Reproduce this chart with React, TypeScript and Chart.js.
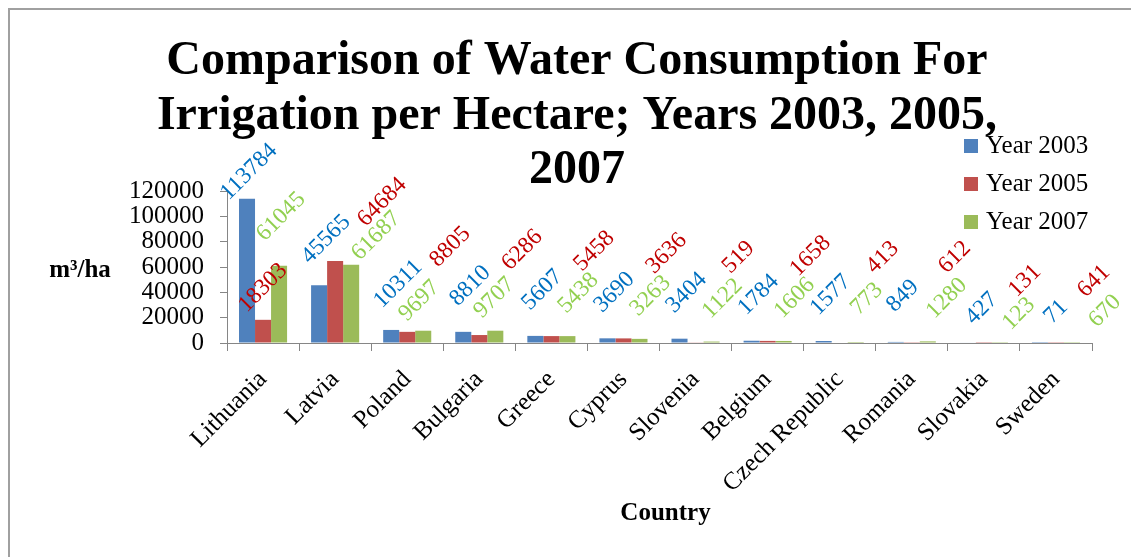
import React, { useEffect, useRef } from 'react';
import { Chart, registerables } from 'chart.js';

Chart.register(...registerables);

// ---------- data ----------
const categories = [
  'Lithuania', 'Latvia', 'Poland', 'Bulgaria', 'Greece', 'Cyprus',
  'Slovenia', 'Belgium', 'Czech Republic', 'Romania', 'Slovakia', 'Sweden',
];
const year2003 = [113784, 45565, 10311, 8810, 5607, 3690, 3404, 1784, 1577, 849, 427, 71];
const year2005 = [18303, 64684, 8805, 6286, 5458, 3636, 519, 1658, 413, 612, 131, 641];
const year2007 = [61045, 61687, 9697, 9707, 5438, 3263, 1122, 1606, 773, 1280, 123, 670];
const seriesNames = ['Year 2003', 'Year 2005', 'Year 2007'];
const yTicks = [0, 20000, 40000, 60000, 80000, 100000, 120000];
const titleLines = [
  'Comparison of Water Consumption For',
  'Irrigation per Hectare; Years 2003, 2005,',
  '2007',
];
const yTitle = 'm³/ha';
const xTitle = 'Country';

// ---------- style ----------
const FONT = "'Liberation Serif', 'Times New Roman', serif";
const barColors = ['#4F81BD', '#C0504D', '#9BBB59'];
const labelColors = ['#0070C0', '#C00000', '#92D050'];
const axisColor = '#868686';

// label offset (dx, dy) from the top-centre of each bar, per series
const labelOffset: [number, number][] = [[7, -46], [43, -85], [11, -43]];
// hand-placed labels in the original (series index : category index)
const labelNudges: Record<string, [number, number]> = {
  '0:0': [2, -27], '0:10': [14, -34], '0:11': [16, -31],
  '1:0': [0, -32], '1:1': [47, -59], '1:10': [41, -62], '1:11': [38, -61],
  '2:0': [2, -49], '2:1': [25, -29], '2:2': [-4, -30], '2:3': [-1, -33],
  '2:9': [19, -43], '2:10': [19, -29], '2:11': [33, -31],
};

const W = 1129;
const H = 547;

const textPlugin = {
  id: 'textDecor',
  afterDatasetsDraw(chart: any) {
    const ctx: CanvasRenderingContext2D = chart.ctx;
    // value labels
    chart.data.datasets.forEach((ds: any, di: number) => {
      const meta = chart.getDatasetMeta(di);
      meta.data.forEach((bar: any, i: number) => {
        const off = labelNudges[`${di}:${i}`] || labelOffset[di];
        ctx.save();
        ctx.translate(bar.x + off[0], bar.y + off[1]);
        ctx.rotate(-Math.PI / 4);
        ctx.font = `23.5px ${FONT}`;
        ctx.fillStyle = labelColors[di];
        ctx.textAlign = 'center';
        ctx.textBaseline = 'middle';
        ctx.fillText(String(ds.data[i]), 0, 0);
        ctx.restore();
      });
    });
  },
  afterDraw(chart: any) {
    const ctx: CanvasRenderingContext2D = chart.ctx;
    const area = chart.chartArea;
    ctx.save();
    // title
    ctx.fillStyle = '#000';
    ctx.textAlign = 'center';
    ctx.textBaseline = 'alphabetic';
    ctx.font = `bold 48px ${FONT}`;
    const tBase = [64, 119, 173];
    titleLines.forEach((line, i) => ctx.fillText(line, 567, tBase[i]));
    // legend
    ctx.font = `25px ${FONT}`;
    ctx.textAlign = 'left';
    seriesNames.forEach((name, i) => {
      const base = 143 + i * 38;
      ctx.fillStyle = barColors[i];
      ctx.fillRect(954, base - 14, 14, 14);
      ctx.fillStyle = '#000';
      ctx.fillText(name, 976, base);
    });
    // axis titles
    ctx.font = `bold 25px ${FONT}`;
    ctx.textAlign = 'center';
    ctx.fillText(yTitle, 70, 267);
    ctx.fillText(xTitle, (area.left + area.right) / 2 + 6, 510);
    ctx.restore();
  },
};

export default function App() {
  const ref = useRef<HTMLCanvasElement>(null);

  useEffect(() => {
    const canvas = ref.current;
    if (!canvas) return;
    const series = [year2003, year2005, year2007];
    const chart = new Chart(canvas, {
      type: 'bar',
      data: {
        labels: categories,
        datasets: series.map((d, i) => ({
          label: seriesNames[i],
          data: d,
          backgroundColor: barColors[i],
          borderWidth: 0,
          categoryPercentage: 0.667,
          barPercentage: 1,
        })),
      },
      options: {
        animation: false,
        responsive: false,
        layout: { padding: { left: 0, top: 181, right: 47, bottom: 0 } },
        plugins: {
          legend: { display: false },
          title: { display: false },
          tooltip: { enabled: false },
        },
        scales: {
          x: {
            grid: { drawOnChartArea: false, tickLength: 8, color: axisColor, offset: true },
            border: { color: axisColor },
            ticks: {
              font: { family: FONT, size: 25 },
              color: '#000',
              minRotation: 45,
              maxRotation: 45,
              autoSkip: false,
              padding: 14,
            },
            afterFit: (s: any) => { s.height = 214; },
          } as any,
          y: {
            min: 0,
            max: 120000,
            grid: { drawOnChartArea: false, tickLength: 7, color: axisColor },
            border: { color: axisColor },
            ticks: {
              font: { family: FONT, size: 25 },
              color: '#000',
              padding: 16,
              autoSkip: false,
              callback: (v: any) => String(v),
            },
            afterBuildTicks: (axis: any) => {
              axis.ticks = yTicks.map((v) => ({ value: v }));
            },
            afterFit: (s: any) => { s.width = 217; },
          } as any,
        },
      },
      plugins: [textPlugin],
    });
    return () => chart.destroy();
  }, []);

  return (
    <div
      style={{
        width: 1131,
        height: 549,
        boxSizing: 'border-box',
        borderLeft: '2px solid #a0a0a0',
        borderTop: '2px solid #a0a0a0',
        background: '#fff',
      }}
    >
      <canvas ref={ref} width={W} height={H} style={{ display: 'block', width: W, height: H }} />
    </div>
  );
}
